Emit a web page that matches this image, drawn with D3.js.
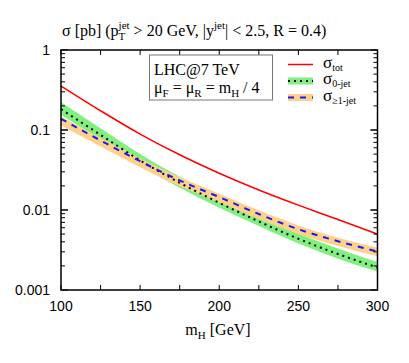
<!DOCTYPE html>
<html>
<head>
<meta charset="utf-8">
<script src="https://cdn.jsdelivr.net/npm/d3@7"></script>
<style>
  body { margin: 0; background: #fff; }
  .serif { font-family: "Liberation Serif", "DejaVu Serif", serif; white-space: pre; }
  .sans { font-family: "Liberation Sans", Arial, sans-serif; }
</style>
</head>
<body>
<svg id="chart" width="409" height="363"></svg>
<script>
// Higgs mass points (GeV)
var mH = [100, 125, 150, 175, 200, 225, 250, 275, 300];

// total cross section (pb)
var sigTot = [0.355, 0.174, 0.089, 0.049, 0.0288, 0.0178, 0.0115, 0.0076, 0.0050];

// 0-jet: central value and scale band
var sig0 = [0.182, 0.087, 0.0417, 0.0219, 0.0123, 0.0072, 0.00437, 0.00282, 0.00191];
var sig0Hi = [0.222, 0.105, 0.050, 0.026, 0.0146, 0.0085, 0.0051, 0.0033, 0.00224];
var sig0Lo = [0.155, 0.075, 0.036, 0.019, 0.0107, 0.0063, 0.0038, 0.00246, 0.00170];

// >=1-jet: central value and scale band
var sig1 = [0.138, 0.074, 0.0407, 0.0234, 0.0145, 0.0089, 0.00575, 0.00407, 0.00302];
var sig1Hi = [0.148, 0.080, 0.044, 0.0256, 0.0160, 0.0099, 0.0064, 0.0045, 0.00338];
var sig1Lo = [0.115, 0.062, 0.0343, 0.0199, 0.0125, 0.0077, 0.0050, 0.00354, 0.00265];

var xTickLabels = [100, 150, 200, 250, 300];
var yTickLabels = [1, 0.1, 0.01, 0.001];

var svg = d3.select('#chart');
var L = 61, R = 377.5, T = 50, B = 290;

var x = d3.scaleLinear().domain([100, 300]).range([L, R]);
var y = d3.scaleLog().domain([0.001, 1]).range([B, T]);

// curves
var line = d3.line().curve(d3.curveMonotoneX);
var area = d3.area().curve(d3.curveMonotoneX);

function pts(vals){ return mH.map(function(m, i){ return [x(m), y(vals[i])]; }); }
function band(lo, hi){
	return area.x(function(d){ return x(d); })
		.y0(function(d, i){ return y(lo[i]); })
		.y1(function(d, i){ return y(hi[i]); })(mH);
}

var plot = svg.append('g');
plot.append('path').attr('d', band(sig0Lo, sig0Hi)).attr('fill', '#80f080');
plot.append('path').attr('d', band(sig1Lo, sig1Hi)).attr('fill', '#ffd08a');

plot.append('path').attr('d', line(pts(sigTot)))
	.attr('fill', 'none').attr('stroke', '#ff0000').attr('stroke-width', 1.5);
plot.append('path').attr('d', line(pts(sig0)))
	.attr('fill', 'none').attr('stroke', '#000').attr('stroke-width', 2)
	.attr('stroke-dasharray', '2,4');
plot.append('path').attr('d', line(pts(sig1)))
	.attr('fill', 'none').attr('stroke', '#1a1aee').attr('stroke-width', 2)
	.attr('stroke-dasharray', '6,6');

// frame and inward ticks (mirrored on all sides)
var ax = svg.append('g').attr('stroke', '#000');
d3.range(100, 301, 25).forEach(function(m){
	ax.append('line').attr('x1', x(m)).attr('x2', x(m)).attr('y1', B).attr('y2', B - 5).attr('stroke-width', 1);
	ax.append('line').attr('x1', x(m)).attr('x2', x(m)).attr('y1', T).attr('y2', T + 5).attr('stroke-width', 1);
});
[0.001, 0.01, 0.1].forEach(function(dec){
	for(var k = 1; k <= 10; k++){
		var v = dec * k;
		var len = (k == 1 || k == 10) ? 7 : 4;
		ax.append('line').attr('x1', L).attr('x2', L + len).attr('y1', y(v)).attr('y2', y(v)).attr('stroke-width', 1);
		ax.append('line').attr('x1', R).attr('x2', R - len).attr('y1', y(v)).attr('y2', y(v)).attr('stroke-width', 1);
	}
});
ax.append('rect').attr('x', L).attr('y', T).attr('width', R - L).attr('height', B - T)
	.attr('fill', 'none').attr('stroke-width', 1.5);

// tick labels
svg.selectAll('.xl').data(xTickLabels).enter().append('text')
	.attr('class', 'sans').attr('x', function(d){ return x(d); }).attr('y', 311)
	.attr('text-anchor', 'middle').style('font-size', '14px').text(function(d){ return d; });
svg.selectAll('.yl').data(yTickLabels).enter().append('text')
	.attr('class', 'sans').attr('x', 50).attr('y', function(d){ return y(d) + 5; })
	.attr('text-anchor', 'end').style('font-size', '14px').text(function(d){ return d; });

// rich text helper: pieces laid out left to right, stack=true puts next piece at the same x
function rich(g, x0, y0, pieces){
	var cx = x0, pendingW = 0;
	pieces.forEach(function(p){
		var t = g.append('text').attr('class', 'serif').attr('x', cx).attr('y', y0 + (p.dy || 0))
			.style('font-size', p.size + 'px').text(p.t);
		var w = t.node().getComputedTextLength();
		if(p.stack){ pendingW = w; }
		else { cx += Math.max(w, pendingW); pendingW = 0; }
	});
	return cx - x0;
}

// title
rich(svg, 62, 36, [
	{t: 'σ [pb] (p', size: 16},
	{t: 'jet', size: 11, dy: -7, stack: true},
	{t: 'T', size: 11, dy: 4},
	{t: ' > 20 GeV, |y', size: 16},
	{t: 'jet', size: 11, dy: -7},
	{t: '| < 2.5, R = 0.4)', size: 16}
]);

// x axis title
var xt = svg.append('g');
var w = rich(xt, 0, 335, [
	{t: 'm', size: 16}, {t: 'H', size: 11, dy: 4}, {t: ' [GeV]', size: 16}
]);
xt.attr('transform', 'translate(' + (218 - w / 2) + ',0)');

// info box
svg.append('rect').attr('x', 149.5).attr('y', 55).attr('width', 123).attr('height', 45)
	.attr('fill', '#fff').attr('stroke', '#777').attr('stroke-width', 1);
rich(svg, 154, 75, [{t: 'LHC@7 TeV', size: 16}]);
rich(svg, 154, 93, [
	{t: 'μ', size: 16}, {t: 'F', size: 11, dy: 4}, {t: ' = μ', size: 16}, {t: 'R', size: 11, dy: 4},
	{t: ' = m', size: 16}, {t: 'H', size: 11, dy: 4}, {t: ' / 4', size: 16}
]);

// legend
var lg = svg.append('g');
var rows = [64.5, 81, 97.5];
lg.append('line').attr('x1', 288).attr('x2', 313).attr('y1', rows[0]).attr('y2', rows[0])
	.attr('stroke', '#ff0000').attr('stroke-width', 1.5);
lg.append('rect').attr('x', 288).attr('y', rows[1] - 3.5).attr('width', 25).attr('height', 7).attr('fill', '#80f080');
lg.append('line').attr('x1', 288).attr('x2', 313).attr('y1', rows[1]).attr('y2', rows[1])
	.attr('stroke', '#000').attr('stroke-width', 2).attr('stroke-dasharray', '2,4');
lg.append('rect').attr('x', 288).attr('y', rows[2] - 3.5).attr('width', 25).attr('height', 7).attr('fill', '#ffd08a');
lg.append('line').attr('x1', 288).attr('x2', 313).attr('y1', rows[2]).attr('y2', rows[2])
	.attr('stroke', '#1a1aee').attr('stroke-width', 2).attr('stroke-dasharray', '6,6');
var labs = ['tot', '0-jet', '≥1-jet'];
labs.forEach(function(s, i){
	rich(lg, 323, rows[i] + 3, [{t: 'σ', size: 17}, {t: s, size: 10, dy: 3}]);
});
</script>
</body>
</html>
